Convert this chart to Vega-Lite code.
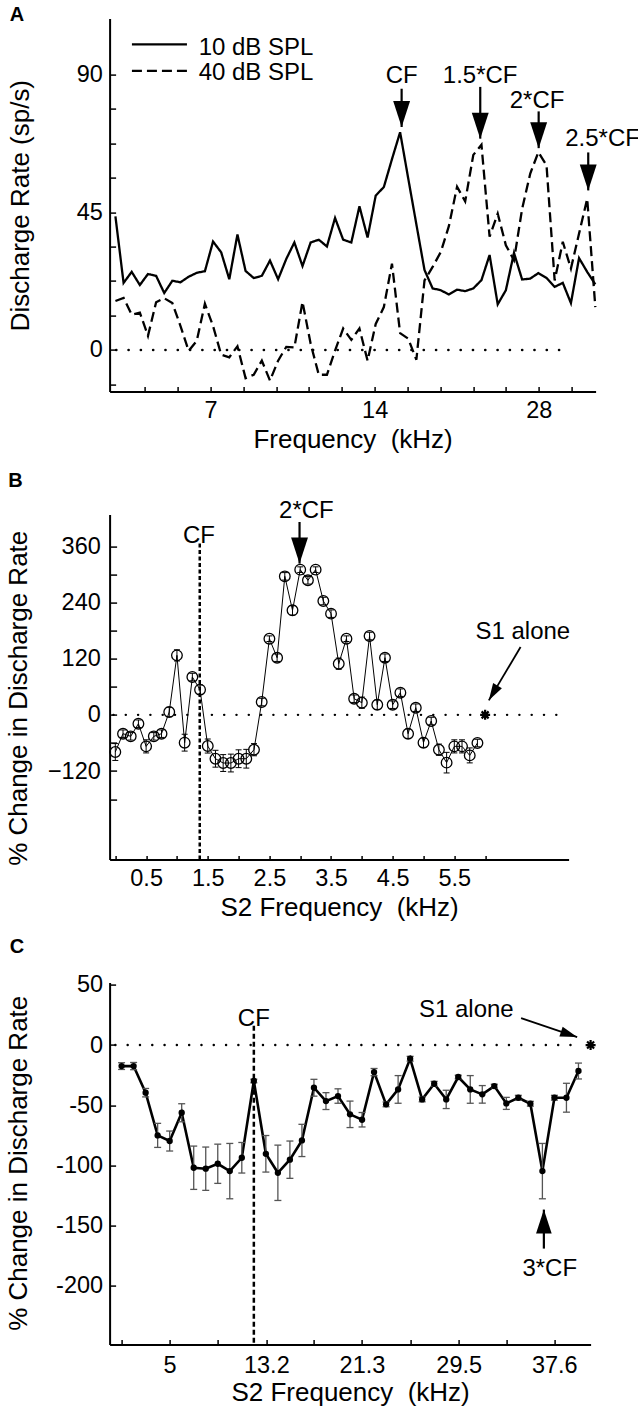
{
  "$schema": "https://vega.github.io/schema/vega-lite/v6.json",
  "background": "white",
  "padding": {"left": 4.6, "top": 4.6, "right": 0, "bottom": 0},
  "bounds": "flush",
  "spacing": 123,
  "datasets": {
    "curveA": [
      {"f":4.684,"v":43.6,"s":"10 dB SPL"},{"f":4.848,"v":21.9,"s":"10 dB SPL"},{"f":5.017,"v":25.5,"s":"10 dB SPL"},{"f":5.193,"v":21.2,"s":"10 dB SPL"},{"f":5.374,"v":24.8,"s":"10 dB SPL"},{"f":5.562,"v":24.2,"s":"10 dB SPL"},{"f":5.756,"v":18.6,"s":"10 dB SPL"},{"f":5.957,"v":22.6,"s":"10 dB SPL"},{"f":6.166,"v":22.1,"s":"10 dB SPL"},{"f":6.381,"v":23.9,"s":"10 dB SPL"},
      {"f":6.604,"v":25.2,"s":"10 dB SPL"},{"f":6.835,"v":25.7,"s":"10 dB SPL"},{"f":7.074,"v":35.4,"s":"10 dB SPL"},{"f":7.321,"v":31.9,"s":"10 dB SPL"},{"f":7.577,"v":23.1,"s":"10 dB SPL"},{"f":7.842,"v":37.7,"s":"10 dB SPL"},{"f":8.116,"v":25.8,"s":"10 dB SPL"},{"f":8.399,"v":23.5,"s":"10 dB SPL"},{"f":8.693,"v":24.2,"s":"10 dB SPL"},{"f":8.997,"v":29.2,"s":"10 dB SPL"},
      {"f":9.312,"v":23.1,"s":"10 dB SPL"},{"f":9.638,"v":29.7,"s":"10 dB SPL"},{"f":9.974,"v":35.1,"s":"10 dB SPL"},{"f":10.323,"v":27.4,"s":"10 dB SPL"},{"f":10.684,"v":35.1,"s":"10 dB SPL"},{"f":11.057,"v":36.0,"s":"10 dB SPL"},{"f":11.444,"v":33.8,"s":"10 dB SPL"},{"f":11.844,"v":43.1,"s":"10 dB SPL"},{"f":12.257,"v":36.0,"s":"10 dB SPL"},{"f":12.686,"v":35.1,"s":"10 dB SPL"},
      {"f":13.129,"v":46.9,"s":"10 dB SPL"},{"f":13.588,"v":36.7,"s":"10 dB SPL"},{"f":14.063,"v":50.4,"s":"10 dB SPL"},{"f":14.555,"v":53.2,"s":"10 dB SPL"},{"f":15.063,"v":62.3,"s":"10 dB SPL"},{"f":15.590,"v":71.1,"s":"10 dB SPL"},{"f":16.134,"v":56.0,"s":"10 dB SPL"},{"f":16.699,"v":41.0,"s":"10 dB SPL"},{"f":17.282,"v":26.1,"s":"10 dB SPL"},{"f":17.886,"v":20.1,"s":"10 dB SPL"},
      {"f":18.513,"v":19.5,"s":"10 dB SPL"},{"f":19.160,"v":18.1,"s":"10 dB SPL"},{"f":19.830,"v":19.7,"s":"10 dB SPL"},{"f":20.522,"v":19.2,"s":"10 dB SPL"},{"f":21.240,"v":20.1,"s":"10 dB SPL"},{"f":21.982,"v":22.8,"s":"10 dB SPL"},{"f":22.751,"v":31.0,"s":"10 dB SPL"},{"f":23.545,"v":14.9,"s":"10 dB SPL"},{"f":24.369,"v":19.5,"s":"10 dB SPL"},{"f":25.220,"v":31.7,"s":"10 dB SPL"},
      {"f":26.102,"v":23.0,"s":"10 dB SPL"},{"f":27.014,"v":23.3,"s":"10 dB SPL"},{"f":27.958,"v":25.1,"s":"10 dB SPL"},{"f":28.936,"v":23.5,"s":"10 dB SPL"},{"f":29.947,"v":20.6,"s":"10 dB SPL"},{"f":30.994,"v":21.9,"s":"10 dB SPL"},{"f":32.077,"v":15.3,"s":"10 dB SPL"},{"f":33.198,"v":30.0,"s":"10 dB SPL"},{"f":34.358,"v":25.5,"s":"10 dB SPL"},{"f":35.560,"v":21.4,"s":"10 dB SPL"},
      {"f":4.684,"v":16.0,"s":"40 dB SPL"},{"f":4.848,"v":17.0,"s":"40 dB SPL"},{"f":5.017,"v":11.5,"s":"40 dB SPL"},{"f":5.193,"v":12.2,"s":"40 dB SPL"},{"f":5.374,"v":4.6,"s":"40 dB SPL"},{"f":5.562,"v":15.6,"s":"40 dB SPL"},{"f":5.756,"v":16.9,"s":"40 dB SPL"},{"f":5.957,"v":15.3,"s":"40 dB SPL"},{"f":6.166,"v":7.8,"s":"40 dB SPL"},{"f":6.381,"v":-0.3,"s":"40 dB SPL"},
      {"f":6.604,"v":3.0,"s":"40 dB SPL"},{"f":6.835,"v":15.1,"s":"40 dB SPL"},{"f":7.074,"v":7.8,"s":"40 dB SPL"},{"f":7.321,"v":-1.5,"s":"40 dB SPL"},{"f":7.577,"v":-2.4,"s":"40 dB SPL"},{"f":7.842,"v":1.2,"s":"40 dB SPL"},{"f":8.116,"v":-9.2,"s":"40 dB SPL"},{"f":8.399,"v":-8.1,"s":"40 dB SPL"},{"f":8.693,"v":-3.5,"s":"40 dB SPL"},{"f":8.997,"v":-10.0,"s":"40 dB SPL"},
      {"f":9.312,"v":-3.5,"s":"40 dB SPL"},{"f":9.638,"v":1.0,"s":"40 dB SPL"},{"f":9.974,"v":0.8,"s":"40 dB SPL"},{"f":10.323,"v":15.7,"s":"40 dB SPL"},{"f":10.684,"v":2.0,"s":"40 dB SPL"},{"f":11.057,"v":-8.1,"s":"40 dB SPL"},{"f":11.444,"v":-8.1,"s":"40 dB SPL"},{"f":11.844,"v":-0.2,"s":"40 dB SPL"},{"f":12.257,"v":7.0,"s":"40 dB SPL"},{"f":12.686,"v":3.3,"s":"40 dB SPL"},
      {"f":13.129,"v":7.0,"s":"40 dB SPL"},{"f":13.588,"v":-3.5,"s":"40 dB SPL"},{"f":14.063,"v":8.5,"s":"40 dB SPL"},{"f":14.555,"v":14.0,"s":"40 dB SPL"},{"f":15.063,"v":28.2,"s":"40 dB SPL"},{"f":15.590,"v":5.5,"s":"40 dB SPL"},{"f":16.134,"v":3.7,"s":"40 dB SPL"},{"f":16.699,"v":-3.2,"s":"40 dB SPL"},{"f":17.282,"v":22.7,"s":"40 dB SPL"},{"f":17.886,"v":27.1,"s":"40 dB SPL"},
      {"f":18.513,"v":32.0,"s":"40 dB SPL"},{"f":19.160,"v":40.5,"s":"40 dB SPL"},{"f":19.830,"v":53.3,"s":"40 dB SPL"},{"f":20.522,"v":48.5,"s":"40 dB SPL"},{"f":21.240,"v":63.7,"s":"40 dB SPL"},{"f":21.982,"v":67.0,"s":"40 dB SPL"},{"f":22.751,"v":37.0,"s":"40 dB SPL"},{"f":23.545,"v":44.5,"s":"40 dB SPL"},{"f":24.369,"v":34.2,"s":"40 dB SPL"},{"f":25.220,"v":29.3,"s":"40 dB SPL"},
      {"f":26.102,"v":46.1,"s":"40 dB SPL"},{"f":27.014,"v":57.6,"s":"40 dB SPL"},{"f":27.958,"v":64.6,"s":"40 dB SPL"},{"f":28.936,"v":60.3,"s":"40 dB SPL"},{"f":29.947,"v":22.7,"s":"40 dB SPL"},{"f":30.994,"v":35.3,"s":"40 dB SPL"},{"f":32.077,"v":26.6,"s":"40 dB SPL"},{"f":33.198,"v":38.0,"s":"40 dB SPL"},{"f":34.358,"v":49.4,"s":"40 dB SPL"},{"f":35.560,"v":14.0,"s":"40 dB SPL"}
    ],
    "legendA": [
      {"f1":5.022,"f2":6.336,"v":99.8,"s":"10 dB SPL","ft":6.657,"vt":98.6},
      {"f1":5.022,"f2":6.336,"v":91.1,"s":"40 dB SPL","ft":6.657,"vt":90.6}
    ],
    "zeroA": [{"f1":4.70,"f2":31.83,"v":0}],
    "textA": [
      {"f":15.69,"v":89.5,"t":"CF"},
      {"f":21.86,"v":89.5,"t":"1.5*CF"},
      {"f":27.80,"v":81.3,"t":"2*CF"},
      {"f":36.67,"v":68.8,"t":"2.5*CF"}
    ],
    "arrowA": [
      {"f":15.69,"v1":85.3,"v2":72.8},
      {"f":21.87,"v1":85.9,"v2":69.0},
      {"f":27.99,"v1":77.9,"v2":65.9},
      {"f":34.51,"v1":64.5,"v2":52.1}
    ],
    "letterA": [{"f":2.997,"v":112.7,"t":"A"}],
    "dataB": [
      {"x":0,"v":-79.4,"lo":-97.4,"hi":-61.4},{"x":0.125,"v":-40.2,"lo":-48.2,"hi":-32.2},{"x":0.25,"v":-45.9,"lo":-53.9,"hi":-37.9},{"x":0.375,"v":-18.9,"lo":-26.9,"hi":-10.9},{"x":0.5,"v":-67.3,"lo":-81.3,"hi":-53.3},{"x":0.625,"v":-45.9,"lo":-53.9,"hi":-37.9},{"x":0.75,"v":-40.2,"lo":-48.2,"hi":-32.2},{"x":0.875,"v":6.1,"lo":-3.9,"hi":16.1},
      {"x":1.0,"v":127.1,"lo":115.1,"hi":139.1},{"x":1.125,"v":-59.4,"lo":-77.4,"hi":-41.4},{"x":1.25,"v":80.8,"lo":72.8,"hi":88.8},{"x":1.375,"v":53.8,"lo":43.8,"hi":63.8},{"x":1.5,"v":-66.6,"lo":-81.6,"hi":-51.6},{"x":1.625,"v":-93.7,"lo":-111.7,"hi":-75.7},{"x":1.75,"v":-102.9,"lo":-120.9,"hi":-84.9},{"x":1.875,"v":-102.9,"lo":-121.9,"hi":-83.9},
      {"x":2.0,"v":-93.7,"lo":-112.7,"hi":-74.7},{"x":2.125,"v":-93.7,"lo":-113.7,"hi":-73.7},{"x":2.25,"v":-74.4,"lo":-87.4,"hi":-61.4},{"x":2.375,"v":27.4,"lo":19.4,"hi":35.4},{"x":2.5,"v":162.7,"lo":156.7,"hi":168.7},{"x":2.625,"v":122.1,"lo":114.1,"hi":130.1},{"x":2.75,"v":295.9,"lo":287.9,"hi":303.9},{"x":2.875,"v":223.3,"lo":213.3,"hi":233.3},
      {"x":3.0,"v":310.2,"lo":304.2,"hi":316.2},{"x":3.125,"v":287.4,"lo":279.4,"hi":295.4},{"x":3.25,"v":310.2,"lo":304.2,"hi":316.2},{"x":3.375,"v":243.2,"lo":235.2,"hi":251.2},{"x":3.5,"v":216.2,"lo":208.2,"hi":224.2},{"x":3.625,"v":109.3,"lo":97.3,"hi":121.3},{"x":3.75,"v":162.7,"lo":156.7,"hi":168.7},{"x":3.875,"v":34.5,"lo":26.5,"hi":42.5},
      {"x":4.0,"v":26.0,"lo":14.0,"hi":38.0},{"x":4.125,"v":168.4,"lo":160.4,"hi":176.4},{"x":4.25,"v":21.7,"lo":11.7,"hi":31.7},{"x":4.375,"v":122.1,"lo":114.1,"hi":130.1},{"x":4.5,"v":21.7,"lo":13.7,"hi":29.7},{"x":4.625,"v":47.4,"lo":39.4,"hi":55.4},{"x":4.75,"v":-40.2,"lo":-50.2,"hi":-30.2},{"x":4.875,"v":15.3,"lo":7.3,"hi":23.3},
      {"x":5.0,"v":-59.4,"lo":-69.4,"hi":-49.4},{"x":5.125,"v":-13.2,"lo":-21.2,"hi":-5.2},{"x":5.25,"v":-74.4,"lo":-86.4,"hi":-62.4},{"x":5.375,"v":-102.1,"lo":-124.1,"hi":-80.1},{"x":5.5,"v":-67.3,"lo":-81.3,"hi":-53.3},{"x":5.625,"v":-67.3,"lo":-81.3,"hi":-53.3},{"x":5.75,"v":-86.6,"lo":-102.6,"hi":-70.6},{"x":5.875,"v":-60.2,"lo":-68.2,"hi":-52.2}
    ],
    "zeroB": [{"x1":-0.03,"x2":7.20,"v":0}],
    "cfB": [{"x":1.37,"v1":366,"v2":-309.2}],
    "textB": [
      {"x":1.357,"v":382.3,"t":"CF"},
      {"x":3.101,"v":435.7,"t":"2*CF"},
      {"x":6.612,"v":177.6,"t":"S1 alone"}
    ],
    "arrowB": [{"x":2.989,"v1":412,"v2":323.1}],
    "s1ArrowB": [{"x1":6.575,"v1":144.9,"x2":6.060,"v2":31.0}],
    "starB": [{"x":6.0,"v":0}],
    "letterB": [{"x":-1.738,"v":521.8,"t":"B"}],
    "dataC": [
      {"x":0.93,"v":-17.5,"lo":-20.3,"hi":-14.7},{"x":1.949,"v":-17.5,"lo":-20.5,"hi":-14.5},{"x":2.968,"v":-39.6,"lo":-43.1,"hi":-36.1},{"x":3.987,"v":-75.1,"lo":-85.1,"hi":-65.1},{"x":5.006,"v":-79.8,"lo":-88.1,"hi":-71.5},{"x":6.025,"v":-56.3,"lo":-63.8,"hi":-48.8},{"x":7.044,"v":-102.0,"lo":-120.0,"hi":-84.0},{"x":8.063,"v":-102.8,"lo":-120.8,"hi":-84.8},
      {"x":9.082,"v":-98.7,"lo":-115.0,"hi":-82.4},{"x":10.101,"v":-104.8,"lo":-127.8,"hi":-81.8},{"x":11.12,"v":-93.7,"lo":-106.4,"hi":-81.0},{"x":12.139,"v":-29.9,"lo":-31.4,"hi":-28.4},{"x":13.158,"v":-90.4,"lo":-105.6,"hi":-75.2},{"x":14.177,"v":-106.2,"lo":-129.2,"hi":-83.2},{"x":15.196,"v":-95.3,"lo":-110.8,"hi":-79.8},{"x":16.215,"v":-79.3,"lo":-92.7,"hi":-65.9},
      {"x":17.234,"v":-35.5,"lo":-42.5,"hi":-28.5},{"x":18.253,"v":-46.6,"lo":-53.6,"hi":-39.6},{"x":19.272,"v":-42.4,"lo":-48.4,"hi":-36.4},{"x":20.291,"v":-57.6,"lo":-68.6,"hi":-46.6},{"x":21.31,"v":-62.1,"lo":-68.1,"hi":-56.1},{"x":22.329,"v":-22.5,"lo":-25.5,"hi":-19.5},{"x":23.348,"v":-49.3,"lo":-51.3,"hi":-47.3},{"x":24.367,"v":-36.9,"lo":-48.4,"hi":-25.4},
      {"x":25.386,"v":-11.4,"lo":-13.4,"hi":-9.4},{"x":26.405,"v":-45.2,"lo":-47.2,"hi":-43.2},{"x":27.424,"v":-32.2,"lo":-34.2,"hi":-30.2},{"x":28.443,"v":-45.2,"lo":-52.8,"hi":-37.6},{"x":29.462,"v":-26.6,"lo":-28.1,"hi":-25.1},{"x":30.481,"v":-36.9,"lo":-48.4,"hi":-25.4},{"x":31.5,"v":-41.0,"lo":-48.3,"hi":-33.7},{"x":32.519,"v":-34.1,"lo":-35.6,"hi":-32.6},
      {"x":33.538,"v":-48.5,"lo":-53.5,"hi":-43.5},{"x":34.557,"v":-43.8,"lo":-45.8,"hi":-41.8},{"x":35.576,"v":-48.8,"lo":-50.8,"hi":-46.8},{"x":36.595,"v":-104.8,"lo":-127.8,"hi":-81.8},{"x":37.614,"v":-43.8,"lo":-45.8,"hi":-41.8},{"x":38.633,"v":-43.8,"lo":-55.8,"hi":-31.8},{"x":39.652,"v":-21.6,"lo":-28.2,"hi":-15.0}
    ],
    "zeroC": [{"x1":0.4,"x2":39.72,"v":0}],
    "cfC": [{"x":12.14,"v1":16,"v2":-249}],
    "textC": [
      {"x":12.14,"v":21.4,"t":"CF"},
      {"x":30.15,"v":29.1,"t":"S1 alone"},
      {"x":37.22,"v":-186.4,"t":"3*CF"}
    ],
    "arrowC": [{"x":36.72,"v1":-169.2,"v2":-136.8}],
    "s1ArrowC": [{"x1":34.79,"v1":22.4,"x2":39.54,"v2":6.65}],
    "starC": [{"x":40.68,"v":0}],
    "letterC": [{"x":-8.543,"v":89.9,"t":"C"}]
  },
  "vconcat": [
    {
      "width": 486,
      "height": 373,
      "layer": [
        {
          "data": {"name": "curveA"},
          "mark": {"type": "line", "strokeWidth": 2.3, "color": "black"},
          "encoding": {
            "x": {"field": "f", "type": "quantitative",
              "scale": {"type": "log", "domain": [4.57, 35.6], "nice": false},
              "axis": {"title": "Frequency\u00a0 (kHz)", "values": [5.305,6.094,7,8.041,9.237,10.611,12.188,14,16.082,18.474,21.22,24.377,28,32.16],
                "labelExpr": "indexof([7,14,28], datum.value) >= 0 ? '' + datum.value : ''",
                "tickSize": -5, "labelPadding": 23.9, "labelBaseline": "middle", "titleBaseline": "middle", "titleY": 47.5}},
            "y": {"field": "v", "type": "quantitative",
              "scale": {"domain": [-13.6, 108.2], "nice": false, "zero": false},
              "axis": {"title": "Discharge Rate (sp/s)", "values": [-11.25,0,11.25,22.5,33.75,45,56.25,67.5,78.75,90],
                "labelExpr": "indexof([0,45,90], datum.value) >= 0 ? '' + datum.value : ''",
                "tickSize": -6, "labelPadding": 13.3, "labelBaseline": "middle", "titleX": -81, "titleBaseline": "alphabetic"}},
            "strokeDash": {"field": "s", "type": "nominal", "scale": {"domain": ["10 dB SPL", "40 dB SPL"], "range": [[1, 0], [10, 5]]}, "legend": null}
          }
        },
        {
          "data": {"name": "legendA"},
          "mark": {"type": "rule", "strokeWidth": 2.3, "color": "black"},
          "encoding": {
            "x": {"field": "f1", "type": "quantitative"},
            "x2": {"field": "f2"},
            "y": {"field": "v", "type": "quantitative"},
            "strokeDash": {"field": "s", "type": "nominal", "legend": null}
          }
        },
        {
          "data": {"name": "legendA"},
          "mark": {"type": "text", "align": "left", "baseline": "middle", "fontSize": 24, "font": "Liberation Sans", "color": "black"},
          "encoding": {
            "x": {"field": "ft", "type": "quantitative"},
            "y": {"field": "vt", "type": "quantitative"},
            "text": {"field": "s"}
          }
        },
        {
          "data": {"name": "zeroA"},
          "mark": {"type": "rule", "strokeWidth": 2.6, "strokeDash": [0.1, 12.2], "strokeCap": "round", "color": "black"},
          "encoding": {
            "x": {"field": "f1", "type": "quantitative"},
            "x2": {"field": "f2"},
            "y": {"field": "v", "type": "quantitative"}
          }
        },
        {
          "data": {"name": "arrowA"},
          "mark": {"type": "rule", "strokeWidth": 2.2, "color": "black"},
          "encoding": {
            "x": {"field": "f", "type": "quantitative"},
            "y": {"field": "v1", "type": "quantitative"},
            "y2": {"field": "v2"}
          }
        },
        {
          "data": {"name": "arrowA"},
          "mark": {"type": "point", "shape": "M-0.65,-2L0.65,-2L0,0Z", "size": 676, "filled": true, "opacity": 1, "color": "black", "strokeWidth": 0},
          "encoding": {
            "x": {"field": "f", "type": "quantitative"},
            "y": {"field": "v2", "type": "quantitative"}
          }
        },
        {
          "data": {"name": "textA"},
          "mark": {"type": "text", "align": "center", "baseline": "middle", "fontSize": 24, "font": "Liberation Sans", "color": "black"},
          "encoding": {
            "x": {"field": "f", "type": "quantitative"},
            "y": {"field": "v", "type": "quantitative"},
            "text": {"field": "t"}
          }
        },
        {
          "data": {"name": "letterA"},
          "mark": {"type": "text", "align": "left", "baseline": "top", "fontSize": 20, "fontWeight": "bold", "font": "Liberation Sans", "color": "black"},
          "encoding": {
            "x": {"field": "f", "type": "quantitative"},
            "y": {"field": "v", "type": "quantitative"},
            "text": {"field": "t"}
          }
        }
      ]
    },
    {
      "width": 459,
      "height": 345,
      "resolve": {"axis": {"x": "independent", "y": "independent"}},
      "layer": [
        {
          "layer": [
            {
              "data": {"name": "dataB"},
              "mark": {"type": "line", "strokeWidth": 1, "color": "black"},
              "encoding": {
                "x": {"field": "x", "type": "quantitative",
                  "scale": {"domain": [-0.0925, 7.354], "nice": false, "zero": false},
                  "axis": {"title": "S2 Frequency\u00a0 (kHz)", "values": [0.5,1.5,2.5,3.5,4.5,5.5],
                    "tickSize": -4, "labelPadding": 22.8, "labelBaseline": "middle", "titleBaseline": "middle", "titleY": 48}},
                "y": {"field": "v", "type": "quantitative",
                  "scale": {"domain": [-309.2, 427.8], "nice": false, "zero": false},
                  "axis": {"title": "% Change in Discharge Rate", "values": [-120,0,120,240,360],
                    "tickSize": -7, "labelPadding": 16.3, "labelBaseline": "middle", "titleX": -83, "titleY": 183.2, "titleBaseline": "alphabetic"}}
              }
            },
            {
              "data": {"name": "dataB"},
              "mark": {"type": "rule", "strokeWidth": 1, "color": "black"},
              "encoding": {
                "x": {"field": "x", "type": "quantitative"},
                "y": {"field": "lo", "type": "quantitative"},
                "y2": {"field": "hi"}
              }
            },
            {
              "data": {"name": "dataB"},
              "mark": {"type": "tick", "orient": "horizontal", "size": 6, "thickness": 1, "opacity": 1, "color": "black"},
              "encoding": {
                "x": {"field": "x", "type": "quantitative"},
                "y": {"field": "lo", "type": "quantitative"}
              }
            },
            {
              "data": {"name": "dataB"},
              "mark": {"type": "tick", "orient": "horizontal", "size": 6, "thickness": 1, "opacity": 1, "color": "black"},
              "encoding": {
                "x": {"field": "x", "type": "quantitative"},
                "y": {"field": "hi", "type": "quantitative"}
              }
            },
            {
              "data": {"name": "dataB"},
              "mark": {"type": "circle", "size": 113, "filled": false, "opacity": 1, "color": "black", "strokeWidth": 1.3},
              "encoding": {
                "x": {"field": "x", "type": "quantitative"},
                "y": {"field": "v", "type": "quantitative"}
              }
            },
            {
              "data": {"name": "cfB"},
              "mark": {"type": "rule", "strokeWidth": 2.5, "strokeDash": [4, 2.5], "color": "black"},
              "encoding": {
                "x": {"field": "x", "type": "quantitative"},
                "y": {"field": "v1", "type": "quantitative"},
                "y2": {"field": "v2"}
              }
            },
            {
              "data": {"name": "arrowB"},
              "mark": {"type": "rule", "strokeWidth": 2.2, "color": "black"},
              "encoding": {
                "x": {"field": "x", "type": "quantitative"},
                "y": {"field": "v1", "type": "quantitative"},
                "y2": {"field": "v2"}
              }
            },
            {
              "data": {"name": "arrowB"},
              "mark": {"type": "point", "shape": "M-0.65,-2L0.65,-2L0,0Z", "size": 676, "filled": true, "opacity": 1, "color": "black", "strokeWidth": 0},
              "encoding": {
                "x": {"field": "x", "type": "quantitative"},
                "y": {"field": "v2", "type": "quantitative"}
              }
            },
            {
              "data": {"name": "s1ArrowB"},
              "mark": {"type": "rule", "strokeWidth": 1.8, "color": "black"},
              "encoding": {
                "x": {"field": "x1", "type": "quantitative"},
                "y": {"field": "v1", "type": "quantitative"},
                "x2": {"field": "x2"},
                "y2": {"field": "v2"}
              }
            },
            {
              "data": {"name": "s1ArrowB"},
              "mark": {"type": "point", "shape": "M-0.6,-2L0.6,-2L0,0Z", "size": 289, "angle": 30.7, "filled": true, "opacity": 1, "color": "black", "strokeWidth": 0},
              "encoding": {
                "x": {"field": "x2", "type": "quantitative"},
                "y": {"field": "v2", "type": "quantitative"}
              }
            },
            {
              "data": {"name": "starB"},
              "mark": {"type": "point", "shape": "M0,-1L0,1M-1,0L1,0M-0.7,-0.7L0.7,0.7M-0.7,0.7L0.7,-0.7", "size": 100, "filled": false, "opacity": 1, "color": "black", "strokeWidth": 2.2},
              "encoding": {
                "x": {"field": "x", "type": "quantitative"},
                "y": {"field": "v", "type": "quantitative"}
              }
            },
            {
              "data": {"name": "textB"},
              "mark": {"type": "text", "align": "center", "baseline": "middle", "fontSize": 24, "font": "Liberation Sans", "color": "black"},
              "encoding": {
                "x": {"field": "x", "type": "quantitative"},
                "y": {"field": "v", "type": "quantitative"},
                "text": {"field": "t"}
              }
            },
            {
              "data": {"name": "letterB"},
              "mark": {"type": "text", "align": "left", "baseline": "top", "fontSize": 20, "fontWeight": "bold", "font": "Liberation Sans", "color": "black"},
              "encoding": {
                "x": {"field": "x", "type": "quantitative"},
                "y": {"field": "v", "type": "quantitative"},
                "text": {"field": "t"}
              }
            }
          ]
        },
        {
          "data": {"name": "zeroB"},
          "mark": {"type": "rule", "strokeWidth": 2.4, "strokeDash": [0.1, 12.2], "strokeCap": "round", "color": "black"},
          "encoding": {
            "x": {"field": "x1", "type": "quantitative",
              "axis": {"orient": "bottom", "values": [0,1,2,3,4,5,6], "labels": false, "domain": false, "title": null, "tickSize": -4}},
            "x2": {"field": "x2"},
            "y": {"field": "v", "type": "quantitative",
              "axis": {"orient": "left", "values": [-180,-60,60,180,300], "labels": false, "domain": false, "title": null, "tickSize": -7}}
          }
        }
      ]
    },
    {
      "width": 481,
      "height": 362,
      "layer": [
        {
          "data": {"name": "dataC"},
          "mark": {"type": "line", "strokeWidth": 2.6, "color": "black"},
          "encoding": {
            "x": {"field": "x", "type": "quantitative",
              "scale": {"domain": [-0.085, 40.68], "nice": false, "zero": false},
              "axis": {"title": "S2 Frequency\u00a0 (kHz)", "values": [0.93,5,9.08,13.2,17.23,21.3,25.39,29.5,33.54,37.6],
                "labelExpr": "indexof([5,13.2,21.3,29.5,37.6], datum.value) >= 0 ? '' + datum.value : ''",
                "tickSize": -5, "labelPadding": 25.7, "labelBaseline": "middle", "titleBaseline": "middle", "titleY": 47.5}},
            "y": {"field": "v", "type": "quantitative",
              "scale": {"domain": [-249, 51.9], "nice": false, "zero": false},
              "axis": {"title": "% Change in Discharge Rate", "values": [-200,-150,-100,-50,0,50],
                "labelExpr": "'' + datum.value",
                "tickSize": -6, "labelPadding": 13, "labelBaseline": "middle", "titleX": -83, "titleY": 180.2, "titleBaseline": "alphabetic"}}
          }
        },
        {
          "data": {"name": "dataC"},
          "mark": {"type": "rule", "strokeWidth": 1.3, "color": "#555555"},
          "encoding": {
            "x": {"field": "x", "type": "quantitative"},
            "y": {"field": "lo", "type": "quantitative"},
            "y2": {"field": "hi"}
          }
        },
        {
          "data": {"name": "dataC"},
          "mark": {"type": "tick", "orient": "horizontal", "size": 7, "thickness": 1.3, "opacity": 1, "color": "#555555"},
          "encoding": {
            "x": {"field": "x", "type": "quantitative"},
            "y": {"field": "lo", "type": "quantitative"}
          }
        },
        {
          "data": {"name": "dataC"},
          "mark": {"type": "tick", "orient": "horizontal", "size": 7, "thickness": 1.3, "opacity": 1, "color": "#555555"},
          "encoding": {
            "x": {"field": "x", "type": "quantitative"},
            "y": {"field": "hi", "type": "quantitative"}
          }
        },
        {
          "data": {"name": "dataC"},
          "mark": {"type": "circle", "size": 40, "opacity": 1, "color": "black"},
          "encoding": {
            "x": {"field": "x", "type": "quantitative"},
            "y": {"field": "v", "type": "quantitative"}
          }
        },
        {
          "data": {"name": "zeroC"},
          "mark": {"type": "rule", "strokeWidth": 2.4, "strokeDash": [0.1, 12.2], "strokeCap": "round", "color": "black"},
          "encoding": {
            "x": {"field": "x1", "type": "quantitative"},
            "x2": {"field": "x2"},
            "y": {"field": "v", "type": "quantitative"}
          }
        },
        {
          "data": {"name": "cfC"},
          "mark": {"type": "rule", "strokeWidth": 2.5, "strokeDash": [5, 3], "color": "black"},
          "encoding": {
            "x": {"field": "x", "type": "quantitative"},
            "y": {"field": "v1", "type": "quantitative"},
            "y2": {"field": "v2"}
          }
        },
        {
          "data": {"name": "arrowC"},
          "mark": {"type": "rule", "strokeWidth": 2.2, "color": "black"},
          "encoding": {
            "x": {"field": "x", "type": "quantitative"},
            "y": {"field": "v1", "type": "quantitative"},
            "y2": {"field": "v2"}
          }
        },
        {
          "data": {"name": "arrowC"},
          "mark": {"type": "point", "shape": "M-0.65,2L0.65,2L0,0Z", "size": 576, "filled": true, "opacity": 1, "color": "black", "strokeWidth": 0},
          "encoding": {
            "x": {"field": "x", "type": "quantitative"},
            "y": {"field": "v2", "type": "quantitative"}
          }
        },
        {
          "data": {"name": "s1ArrowC"},
          "mark": {"type": "rule", "strokeWidth": 1.8, "color": "black"},
          "encoding": {
            "x": {"field": "x1", "type": "quantitative"},
            "y": {"field": "v1", "type": "quantitative"},
            "x2": {"field": "x2"},
            "y2": {"field": "v2"}
          }
        },
        {
          "data": {"name": "s1ArrowC"},
          "mark": {"type": "point", "shape": "M-0.6,-2L0.6,-2L0,0Z", "size": 289, "angle": -71.3, "filled": true, "opacity": 1, "color": "black", "strokeWidth": 0},
          "encoding": {
            "x": {"field": "x2", "type": "quantitative"},
            "y": {"field": "v2", "type": "quantitative"}
          }
        },
        {
          "data": {"name": "starC"},
          "mark": {"type": "point", "shape": "M0,-1L0,1M-1,0L1,0M-0.7,-0.7L0.7,0.7M-0.7,0.7L0.7,-0.7", "size": 100, "filled": false, "opacity": 1, "color": "black", "strokeWidth": 2.2},
          "encoding": {
            "x": {"field": "x", "type": "quantitative"},
            "y": {"field": "v", "type": "quantitative"}
          }
        },
        {
          "data": {"name": "textC"},
          "mark": {"type": "text", "align": "center", "baseline": "middle", "fontSize": 24, "font": "Liberation Sans", "color": "black"},
          "encoding": {
            "x": {"field": "x", "type": "quantitative"},
            "y": {"field": "v", "type": "quantitative"},
            "text": {"field": "t"}
          }
        },
        {
          "data": {"name": "letterC"},
          "mark": {"type": "text", "align": "left", "baseline": "top", "fontSize": 20, "fontWeight": "bold", "font": "Liberation Sans", "color": "black"},
          "encoding": {
            "x": {"field": "x", "type": "quantitative"},
            "y": {"field": "v", "type": "quantitative"},
            "text": {"field": "t"}
          }
        }
      ]
    }
  ],
  "config": {
    "font": "Liberation Sans",
    "view": {"stroke": null},
    "axis": {
      "grid": false,
      "domainColor": "black",
      "domainWidth": 2,
      "tickColor": "black",
      "tickWidth": 1.5,
      "labelColor": "black",
      "titleColor": "black",
      "labelFont": "Liberation Sans",
      "titleFont": "Liberation Sans",
      "labelFontSize": 23.5,
      "titleFontSize": 26,
      "titleFontWeight": "normal",
      "labelOverlap": false,
      "labelFlush": false
    }
  }
}
